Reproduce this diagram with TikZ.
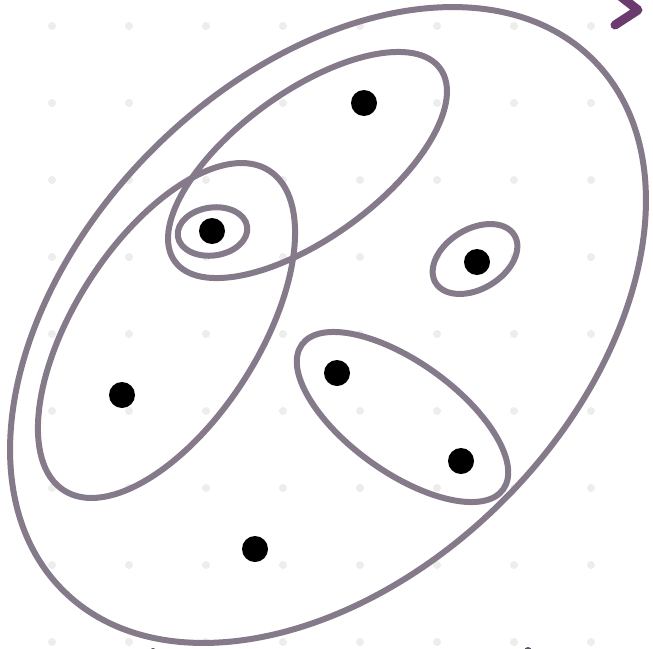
\documentclass[tikz,border=0pt]{standalone}
\usepackage{tikz}
\definecolor{setline}{HTML}{857A8A}
\definecolor{gridgray}{HTML}{EDEDED}
\definecolor{penpurple}{HTML}{6B3A6E}

\begin{document}
\begin{tikzpicture}[x=1pt,y=-1pt,
  vtx/.style={circle,fill=black,inner sep=0pt,minimum size=26pt},
  set/.style={draw=setline,line width=6pt}]
  \useasboundingbox (0,0) rectangle (653,648);
  \clip (0,0) rectangle (653,648);
  \fill[white] (0,0) rectangle (653,648);
  % faint dot grid
  \foreach \x in {52,129,...,591}
    \foreach \y in {26,103,...,642}
      \fill[gridgray] (\x,\y) circle (4);
  % vertices
  \node[vtx] (a) at (364,103) {};
  \node[vtx] (b) at (212,231) {};
  \node[vtx] (c) at (477,262) {};
  \node[vtx] (d) at (337,373) {};
  \node[vtx] (e) at (122,395) {};
  \node[vtx] (f) at (461,461) {};
  \node[vtx] (g) at (255,549) {};
  % sets
  \draw[set] (328,325) ellipse [x radius=375, y radius=248, rotate=45];
  \draw[set] (307.5,165) ellipse [x radius=164, y radius=73, rotate=36];
  \draw[set] (166.5,330.5) ellipse [x radius=190, y radius=92, rotate=57.3];
  \draw[set] (212.5,231.5) ellipse [x radius=35, y radius=24, rotate=8];
  \draw[set] (475,259) ellipse [x radius=46, y radius=30, rotate=31];
  \draw[set] (402.5,417) ellipse [x radius=124, y radius=55, rotate=-35.7];
  % pen marks at the edges
  \draw[penpurple,line width=9pt,line cap=round,line join=round]
    (615,25) -- (638,10) -- (615,-8);
  \fill[black!70] (153,651) circle (3);
  \fill[setline!70!black] (528,651) circle (4);
\end{tikzpicture}
\end{document}
